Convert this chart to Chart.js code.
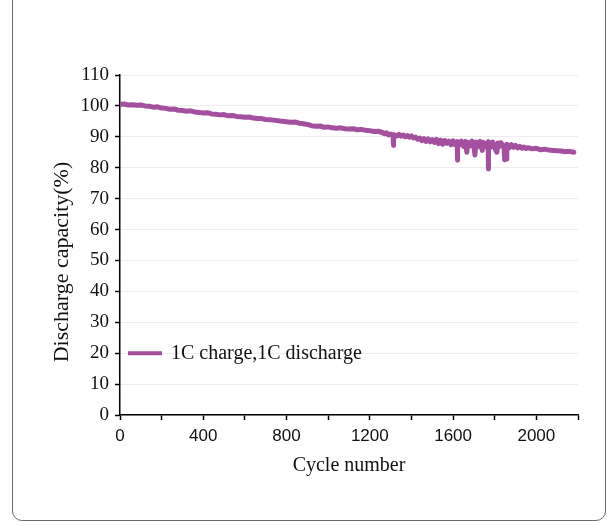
<!DOCTYPE html>
<html>
<head>
<meta charset="utf-8">
<script src="https://cdn.jsdelivr.net/npm/chart.js@4/dist/chart.umd.min.js"></script>
<style>
  html, body { margin: 0; padding: 0; background: #fff; overflow: hidden; }
  #wrap { position: relative; width: 609px; height: 529px; }
  #frame { position: absolute; left: 12px; top: -20px; width: 594px; height: 541px;
           border: 1.5px solid #6a6a6a; border-radius: 10px; box-sizing: border-box; }
  canvas { position: absolute; left: 0; top: 0; }
</style>
</head>
<body>
<div id="wrap">
  <div id="frame"></div>
  <canvas id="c" width="609" height="529"></canvas>
</div>
<script>
const cycles = [0,20,40,60,80,100,120,140,160,180,200,220,240,260,280,300,320,340,360,380,
  400,420,440,460,480,500,520,540,560,580,600,620,640,660,680,700,720,740,760,780,
  800,820,840,860,880,900,920,940,960,980,1000,1020,1040,1060,1080,1100,1120,1140,1160,1180,
  1200,1220,1240,1260,1270,1280,1290,1300,1312,1312,1316,1330,1340,1350,1360,1370,1380,1390,1400,
  1410,1420,1430,1440,1450,1460,1470,1480,1490,1500,1510,1520,1530,1540,1550,1560,1570,1580,1590,1600,
  1610,1620,1620,1623,1630,1640,1650,1660,1666,1670,1680,1690,1700,1705,1710,1720,1730,1740,1745,1760,
  1768,1768,1772,1780,1790,1800,1810,1815,1820,1830,1845,1848,1855,1858,1870,1880,1890,1900,1910,1920,
  1930,1940,1950,1960,1980,2000,2020,2040,2060,2080,2100,2120,2140,2160,2180];
const capacity = [100.5,100.6,100.3,100.4,100.2,100.3,100.0,99.9,99.6,99.7,99.3,99.2,98.9,99.0,98.6,98.5,98.3,98.4,98.0,97.9,
  97.7,97.8,97.4,97.3,97.1,97.2,96.8,96.9,96.6,96.5,96.3,96.4,96.1,95.9,95.9,95.6,95.5,95.4,95.2,95.0,
  94.9,94.7,94.8,94.4,94.2,94.0,93.6,93.4,93.5,93.1,93.2,92.9,92.8,92.9,92.6,92.5,92.6,92.3,92.4,92.1,
  92.0,91.7,91.8,91.4,91.0,91.3,90.6,90.9,90.4,87.2,90.7,90.3,90.8,90.2,90.6,90.0,90.4,89.9,90.3,
  89.6,89.9,89.2,89.6,88.8,89.4,88.5,89.3,88.4,89.1,88.2,89.2,87.8,88.9,87.6,88.8,87.9,88.6,87.4,88.7,
  87.5,88.4,82.4,88.0,87.3,88.6,86.9,88.5,85.0,88.2,87.0,88.6,86.8,84.1,88.3,86.9,88.5,85.6,88.2,86.8,
  88.4,79.6,87.8,86.6,88.3,86.5,85.0,88.0,86.7,88.1,86.4,82.6,82.8,87.6,86.5,87.5,86.6,87.2,86.4,86.9,
  86.3,86.7,86.2,86.5,86.1,86.3,85.8,86.0,85.7,85.6,85.5,85.4,85.2,85.3,85.0];
const yTicks = [0,10,20,30,40,50,60,70,80,90,100,110];
const xTickLabels = [0,400,800,1200,1600,2000];
const seriesLabel = '1C charge,1C discharge';
const xTitle = 'Cycle number';
const yTitle = 'Discharge capacity(%)';
const lineColor = '#a3519e';

const points = cycles.map((c, i) => ({ x: c, y: capacity[i] }));

const extrasPlugin = {
  id: 'extras',
  afterDraw(chart) {
    const ctx = chart.ctx;
    const ds = chart.data.datasets[0];
    const ca = chart.chartArea;
    // inner legend
    const y = chart.scales.y.getPixelForValue(20);
    const x0 = ca.left + 8;
    ctx.save();
    ctx.strokeStyle = ds.borderColor;
    ctx.lineWidth = 4;
    ctx.beginPath();
    ctx.moveTo(x0, y);
    ctx.lineTo(x0 + 34, y);
    ctx.stroke();
    ctx.fillStyle = '#111';
    ctx.font = '20px "Liberation Serif", serif';
    ctx.textBaseline = 'middle';
    ctx.textAlign = 'left';
    ctx.fillText(ds.label, x0 + 43, y + 1);
    // y axis title
    ctx.translate(62, (ca.top + ca.bottom) / 2 + 17);
    ctx.rotate(-Math.PI / 2);
    ctx.textAlign = 'center';
    ctx.font = '22px "Liberation Serif", serif';
    ctx.fillText(yTitle, 0, 0);
    ctx.restore();
  }
};

new Chart(document.getElementById('c'), {
  type: 'line',
  data: {
    datasets: [{
      label: seriesLabel,
      data: points,
      borderColor: lineColor,
      backgroundColor: lineColor,
      borderWidth: 5,
      borderJoinStyle: 'round',
      borderCapStyle: 'round',
      pointRadius: 0,
      tension: 0,
      fill: false
    }]
  },
  options: {
    responsive: false,
    animation: false,
    layout: { padding: { left: 48, top: 75, right: 31, bottom: 47 } },
    plugins: { legend: { display: false }, tooltip: { enabled: false } },
    scales: {
      x: {
        type: 'linear',
        min: 0, max: 2200,
        afterFit(s) { s.height = 67; },
        ticks: {
          stepSize: 200,
          autoSkip: false,
          maxRotation: 0,
          padding: 6,
          color: '#111',
          font: { family: '"Liberation Sans", Arial, sans-serif', size: 17 },
          callback: (v) => xTickLabels.includes(v) ? String(v) : ''
        },
        grid: { drawOnChartArea: false, drawTicks: true, tickLength: 5, tickColor: '#000', tickWidth: 1.5 },
        border: { display: true, color: '#000', width: 1.5 },
        title: {
          display: true, text: xTitle, color: '#111',
          font: { family: '"Liberation Serif", serif', size: 20 },
          padding: { top: 4, bottom: 4 }
        }
      },
      y: {
        type: 'linear',
        min: 0, max: 110,
        afterFit(s) { s.width = 72; },
        afterBuildTicks(s) { s.ticks = yTicks.map(v => ({ value: v })); },
        ticks: {
          padding: 6,
          color: '#111',
          font: { family: '"Liberation Serif", serif', size: 19 }
        },
        grid: {
          color: 'rgba(0,0,0,0.07)', borderDash: [2, 3], lineWidth: 1,
          tickLength: 5, tickColor: '#000', tickWidth: 1.5, tickBorderDash: []
        },
        border: { display: true, color: '#000', width: 1.5 },
        title: { display: false }
      }
    }
  },
  plugins: [extrasPlugin]
});
</script>
</body>
</html>
